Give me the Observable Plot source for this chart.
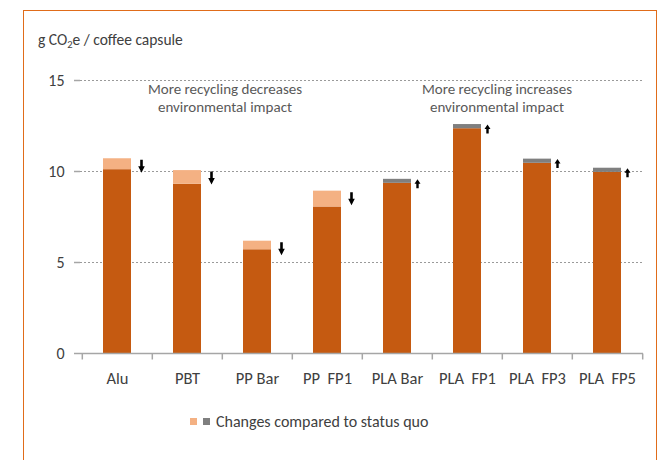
<!DOCTYPE html>
<html><head><meta charset="utf-8">
<script src="https://cdn.jsdelivr.net/npm/d3@7"></script>
<script src="https://cdn.jsdelivr.net/npm/@observablehq/plot@0.6"></script>
<style>
body{margin:0;background:#fff;}
#wrap{position:relative;width:659px;height:460px;overflow:hidden;font-family:Carlito,Calibri,Lato,sans-serif;color:#404040;}
#border{position:absolute;left:23px;top:10px;width:634px;height:480px;border:1.5px solid #e06c1a;box-sizing:border-box;}
#chart{position:absolute;left:0;top:0;}
#title{position:absolute;left:38px;top:30px;font-size:15.5px;line-height:20px;color:#404040;white-space:nowrap;}
#title sub{font-size:10.5px;vertical-align:-3px;line-height:0;}
.note{position:absolute;width:240px;text-align:center;font-size:15px;line-height:18px;color:#595959;white-space:nowrap;}
#legend{position:absolute;left:190px;top:412px;height:20px;font-size:16px;line-height:20px;color:#404040;white-space:nowrap;}
#legend .sw{display:inline-block;width:7px;height:7px;margin-right:6px;vertical-align:2px;}
</style></head>
<body>
<div id="wrap">
  <div id="chart"></div>
  <div id="border"></div>
  <div id="title">g CO<sub>2</sub>e / coffee capsule</div>
  <div class="note" style="left:105px;top:80px;">More recycling decreases<br>environmental impact</div>
  <div class="note" style="left:377px;top:80px;">More recycling increases<br>environmental impact</div>
  <div id="legend"><span class="sw" style="background:#f4b183"></span><span class="sw" style="background:#7f7f7f"></span>Changes compared to status quo</div>
</div>
<script>
const categories = ["Alu", "PBT", "PP Bar", "PP\u00a0 FP1", "PLA Bar", "PLA\u00a0 FP1", "PLA\u00a0 FP3", "PLA\u00a0 FP5"];
const baseValues = [10.1, 9.3, 5.7, 8.05, 9.35, 12.35, 10.45, 9.95];
const changeValues = [0.6, 0.75, 0.47, 0.87, 0.22, 0.23, 0.23, 0.23];
const changeDirection = ["down", "down", "down", "down", "up", "up", "up", "up"];
const yTicks = [0, 5, 10, 15];
const gridValues = [5, 10, 15];

const darkOrange = "#c55a11", lightOrange = "#f4b183", grey = "#7f7f7f";

const bars = [];
categories.forEach((c, i) => {
  bars.push({cat: c, value: baseValues[i], fill: darkOrange});
  bars.push({cat: c, value: changeValues[i], fill: changeDirection[i] === "down" ? lightOrange : grey});
});
const arrows = categories.map((c, i) => ({cat: c, total: baseValues[i] + changeValues[i], dir: changeDirection[i]}));

const downArrow = {draw(ctx) {
  ctx.moveTo(-1.3, 1); ctx.lineTo(1.3, 1); ctx.lineTo(1.3, 7.5); ctx.lineTo(3.3, 7.5);
  ctx.lineTo(0, 14); ctx.lineTo(-3.3, 7.5); ctx.lineTo(-1.3, 7.5); ctx.closePath();
}};
const upArrow = {draw(ctx) {
  ctx.moveTo(0, 0); ctx.lineTo(3, 4.5); ctx.lineTo(1.2, 4.5); ctx.lineTo(1.2, 9);
  ctx.lineTo(-1.2, 9); ctx.lineTo(-1.2, 4.5); ctx.lineTo(-3, 4.5); ctx.closePath();
}};
const tickMark = {draw(ctx) { ctx.moveTo(0, 0); ctx.lineTo(0, 6); }};

const W = 659, H = 460, mL = 80, mR = 16;
const pIn = 0.6, pOut = 0.3;
const step = (W - mL - mR) / (categories.length - pIn + 2 * pOut);

const chart = Plot.plot({
  width: W, height: H,
  marginLeft: mL, marginRight: mR, marginTop: 80, marginBottom: 107,
  style: {fontFamily: "Carlito, Calibri, Lato, sans-serif", fontSize: "16px", color: "#404040", background: "transparent"},
  color: {type: "identity"},
  x: {domain: categories, paddingInner: pIn, paddingOuter: pOut, label: null},
  y: {domain: [0, 15], label: null},
  marks: [
    Plot.ruleY(gridValues, {stroke: "#9a9a9a", strokeDasharray: "2,2", strokeWidth: 1}),
    Plot.barY(bars, {x: "cat", y: "value", fill: "fill"}),
    Plot.axisY({ticks: yTicks, tickSize: 6, tickPadding: 10, stroke: "#a6a6a6", fill: "#404040", line: true, strokeWidth: 1.5, fontSize: 16, label: null}),
    Plot.axisX({tickSize: 0, tickPadding: 19, fill: "#404040", fontSize: 16.5, label: null}),
    Plot.ruleY([0], {stroke: "#a6a6a6", strokeWidth: 1.5}),
    Plot.dot(categories, {x: d => d, y: () => 0, symbol: tickMark, stroke: "#a6a6a6", fill: "none", strokeWidth: 1.5, dx: -step / 2}),
    Plot.dot(categories.slice(-1), {x: d => d, y: () => 0, symbol: tickMark, stroke: "#a6a6a6", fill: "none", strokeWidth: 1.5, dx: step / 2}),
    Plot.dot(arrows.filter(d => d.dir === "down"), {x: "cat", y: "total", symbol: downArrow, fill: "#000", stroke: "none", dx: 24}),
    Plot.dot(arrows.filter(d => d.dir === "up"), {x: "cat", y: "total", symbol: upArrow, fill: "#000", stroke: "none", dx: 20})
  ]
});
document.getElementById("chart").appendChild(chart);
</script>
</body></html>
